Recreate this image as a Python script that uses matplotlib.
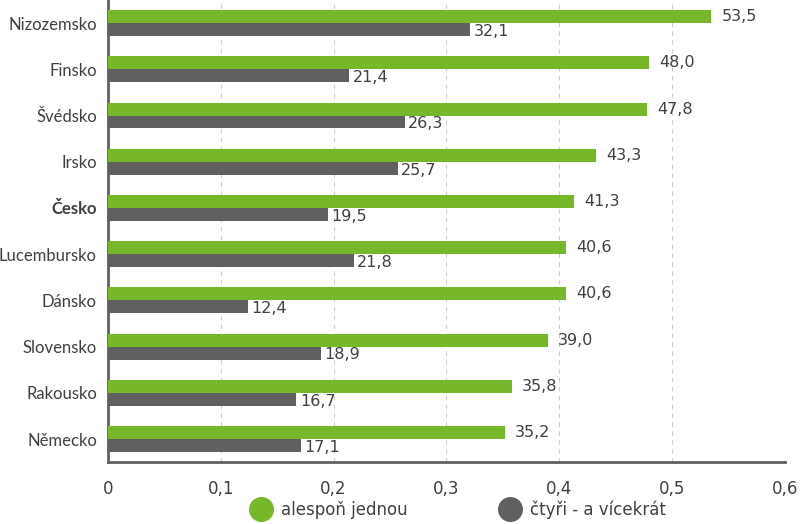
import matplotlib
matplotlib.use("Agg")
import matplotlib.pyplot as plt
import numpy as np
from matplotlib.lines import Line2D

# Data.
zeme = ["Nizozemsko", "Finsko", "Švédsko", "Irsko", "Česko",
        "Lucembursko", "Dánsko", "Slovensko", "Rakousko", "Německo"]
alespon = [53.5, 48.0, 47.8, 43.3, 41.3, 40.6, 40.6, 39.0, 35.8, 35.2]
ctyri = [32.1, 21.4, 26.3, 25.7, 19.5, 21.8, 12.4, 18.9, 16.7, 17.1]
xticks = [0, 0.1, 0.2, 0.3, 0.4, 0.5, 0.6]

green = "#77b82a"
gray = "#606060"
txt = "#404040"
narrow = ["Liberation Sans Narrow", "DejaVu Sans"]

fig = plt.figure(figsize=(8, 5.24), dpi=100)
ax = fig.add_axes([0.135, 0.118, 0.846, 0.882])

y = np.arange(len(zeme))
h = 0.28
ax.barh(y - h / 2, np.array(alespon) / 100, height=h, color=green, zorder=3)
ax.barh(y + h / 2, np.array(ctyri) / 100, height=h, color=gray, zorder=3)

for i in range(len(zeme)):
    ax.text(alespon[i] / 100 + 0.009, y[i] - h / 2, ("%.1f" % alespon[i]).replace(".", ","),
            va="center", ha="left", fontsize=11.5, color=txt)
    ax.text(ctyri[i] / 100 + 0.003, y[i] + h / 2 + 0.04, ("%.1f" % ctyri[i]).replace(".", ","),
            va="center", ha="left", fontsize=11.5, color=txt)

ax.set_ylim(len(zeme) - 0.5, -0.5)
ax.set_xlim(0, 0.6)
ax.set_yticks(y)
ax.set_yticklabels(zeme, fontsize=12, color=txt, family=["Lato", "DejaVu Sans"])
for lab in ax.get_yticklabels():
    if lab.get_text() == "Česko":
        lab.set_fontweight("bold")
ax.set_xticks(xticks)
ax.set_xticklabels([("%g" % v).replace(".", ",") for v in xticks],
                   fontsize=12, color=txt, family=narrow)
ax.tick_params(axis="y", length=0, pad=8)
ax.tick_params(axis="x", length=0, pad=13)

ax.grid(axis="x", color="#cccccc", linestyle=(0, (4, 4)), linewidth=0.8, zorder=0)
for s in ["top", "right"]:
    ax.spines[s].set_visible(False)
ax.spines["left"].set_color(gray)
ax.spines["left"].set_linewidth(2)
ax.spines["bottom"].set_color(gray)
ax.spines["bottom"].set_linewidth(2)

handles = [Line2D([], [], marker="o", linestyle="", markersize=17, color=green),
           Line2D([], [], marker="o", linestyle="", markersize=17, color=gray)]
fig.legend(handles, ["alespoň jednou", "čtyři - a vícekrát"], loc="center",
           bbox_to_anchor=(0.569, 0.027), ncol=2, frameon=False, columnspacing=5.1,
           handletextpad=0.2, prop={"family": narrow, "size": 12},
           labelcolor=txt)

plt.savefig("out.png")
